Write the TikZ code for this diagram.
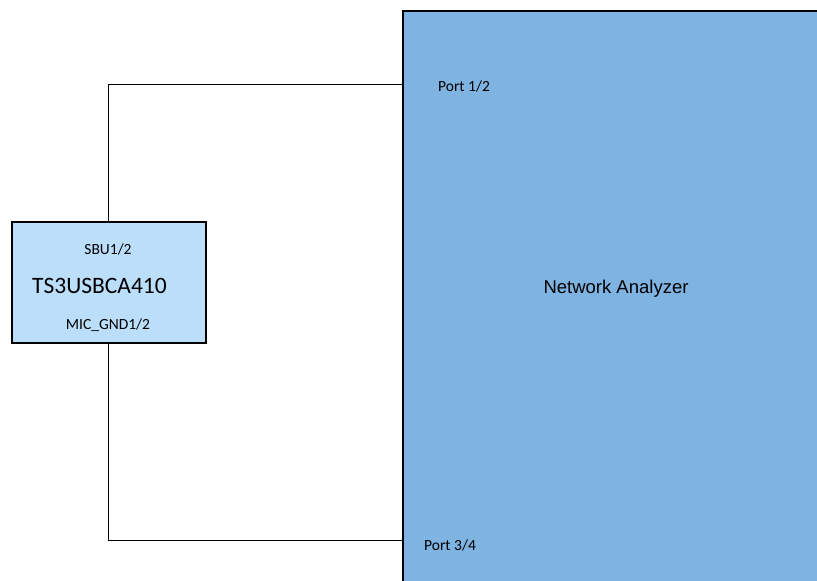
\documentclass[tikz,border=0pt]{standalone}
\usepackage{fontspec}
\setmainfont{Carlito}
\newfontfamily\arialfont{Liberation Sans}
\definecolor{nafill}{RGB}{127,179,225}
\definecolor{chipfill}{RGB}{187,222,251}
\begin{document}
\begin{tikzpicture}[x=1pt,y=-1pt,
  box/.style={draw=black,line width=2pt},
  wire/.style={draw=black,line width=1pt},
  lbl/.style={inner sep=0pt,font=\fontsize{15.5}{17}\selectfont}]
\useasboundingbox (0,0) rectangle (817,581);
\fill[nafill] (403,11) rectangle (830,595);
\draw[box] (830,11) -- (403,11) -- (403,595);
\node[box,fill=chipfill,minimum width=194pt,minimum height=121pt,inner sep=0pt,anchor=north west] (chip) at (11,221) {};
\coordinate (p12) at (403,84);
\coordinate (p34) at (403,540);
\draw[wire] (108,221) |- (p12);
\draw[wire] (108,342) |- (p34);
\node[lbl] (sbu) at (108,249) {SBU1/2};
\node[inner sep=0pt,font=\fontsize{23.5}{25}\selectfont] (ts) at (99.5,286) {TS3USBCA410};
\node[lbl] (mic) at (108,325) {MIC\_GND1/2};
\node[lbl,anchor=west] (port1) at (438,86) {Port 1/2};
\node[lbl,anchor=west] (port3) at (424,545) {Port 3/4};
\node[inner sep=0pt,font=\arialfont\fontsize{18.5}{20}\selectfont] (na) at (616,289) {Network Analyzer};
\end{tikzpicture}
\end{document}
